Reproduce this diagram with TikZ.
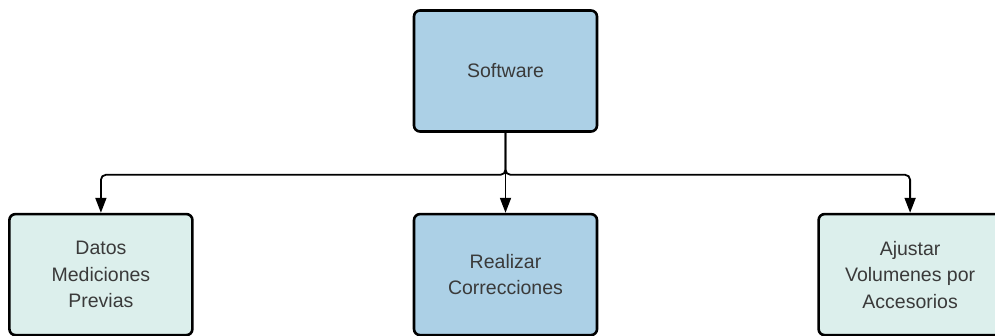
\documentclass[tikz,border=0pt]{standalone}
\usepackage{fontspec}
\setmainfont{Liberation Sans}
\usepackage{xcolor}
\definecolor{colorSoft}{RGB}{172,208,230}
\definecolor{colorData}{RGB}{220,239,236}
\definecolor{colorText}{RGB}{58,58,58}
\usetikzlibrary{arrows.meta, positioning}
\tikzset{
  box/.style={draw=black, line width=2.6pt, rounded corners=6pt, minimum width=183pt, minimum height=121pt,
    align=center, text=colorText, font=\fontsize{19.5}{26.5}\selectfont},
  bluebox/.style={box, fill=colorSoft},
  greenbox/.style={box, fill=colorData},
  link/.style={->, line width=1.8pt, rounded corners=5pt}
}

\begin{document}
\begin{tikzpicture}[>={Triangle[width=11pt,length=15pt]}, node distance=80pt and 219pt]
\useasboundingbox (0,0) rectangle (995pt,-336pt);
\node[bluebox] (software) at (505.5pt,-71pt) {Software};
\node[bluebox, below=of software] (correcciones) {Realizar\\Correcciones};
\node[greenbox, left=of correcciones] (datos) {Datos\\Mediciones\\Previas};
\node[greenbox, right=of correcciones] (ajustar) {Ajustar\\Volumenes por\\Accesorios};
\coordinate[below=42pt of software.south] (split);
\draw[link] (software.south) -- (split) -| (datos.north);
\draw[link] (software.south) -- (split) -| (ajustar.north);
\draw[link] (software.south) -- (correcciones.north);
\end{tikzpicture}
\end{document}
